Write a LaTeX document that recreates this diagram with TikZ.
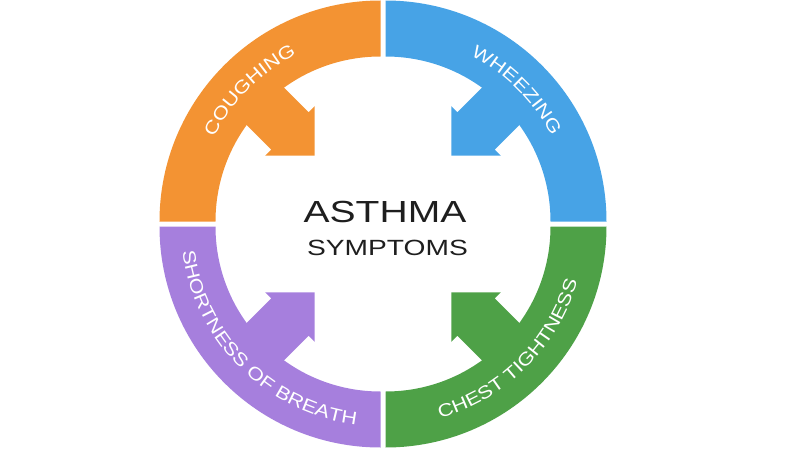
\documentclass[tikz,border=0pt]{standalone}
\usepackage{fontspec}
\setmainfont{Liberation Sans}
\newfontfamily\titlefont[FakeStretch=1.28]{Liberation Sans}
\newfontfamily\ringfont[FakeStretch=1.2]{Liberation Sans}
\usetikzlibrary{decorations.text}
\definecolor{cough}{HTML}{F39333}
\definecolor{wheeze}{HTML}{47A3E6}
\definecolor{breath}{HTML}{A67FDD}
\definecolor{chest}{HTML}{4EA147}
\definecolor{ink}{HTML}{1E1E1E}
\newcommand\ringtext{\ringfont\fontsize{18}{20}\selectfont}

\tikzset{
  ringlabel/.style={decorate,decoration={text along path,text align=center,text color=white,text={#1}}}
}

\begin{document}
\begin{tikzpicture}[x=1pt,y=1pt]

  \useasboundingbox (-383,-226) rectangle (411,224);

  % Coughing (top left quarter)
  \begin{scope}[shift={(-2.5,2.5)}]
    \fill[cough] (180:221) arc[start angle=180,end angle=90,radius=221] -- (90:165) arc[start angle=90,end angle=180,radius=165] -- cycle;
    \fill[cough,rotate=135] (175,-26.5) -- (128,-26.5) -- (128,-35) -- (93,0) -- (128,35) -- (128,26.5) -- (175,26.5) -- cycle;
    \path[ringlabel={|\ringtext|COUGHING}] (179:186.5) arc[start angle=179,end angle=91,radius=186.5];
  \end{scope}

  % Wheezing (top right quarter)
  \begin{scope}[shift={(2.5,2.5)}]
    \fill[wheeze] (90:221) arc[start angle=90,end angle=0,radius=221] -- (0:165) arc[start angle=0,end angle=90,radius=165] -- cycle;
    \fill[wheeze,rotate=45] (175,-26.5) -- (128,-26.5) -- (128,-35) -- (93,0) -- (128,35) -- (128,26.5) -- (175,26.5) -- cycle;
    \path[ringlabel={|\ringtext|WHEEZING}] (89:186.5) arc[start angle=89,end angle=1,radius=186.5];
  \end{scope}

  % Shortness of breath (bottom left quarter)
  \begin{scope}[shift={(-2.5,-2.5)}]
    \fill[breath] (180:221) arc[start angle=180,end angle=270,radius=221] -- (270:165) arc[start angle=270,end angle=180,radius=165] -- cycle;
    \fill[breath,rotate=225] (175,-26.5) -- (128,-26.5) -- (128,-35) -- (93,0) -- (128,35) -- (128,26.5) -- (175,26.5) -- cycle;
    \path[ringlabel={|\ringtext|SHORTNESS OF BREATH}] (181:199.5) arc[start angle=181,end angle=269,radius=199.5];
  \end{scope}

  % Chest tightness (bottom right quarter)
  \begin{scope}[shift={(2.5,-2.5)}]
    \fill[chest] (270:221) arc[start angle=270,end angle=360,radius=221] -- (0:165) arc[start angle=360,end angle=270,radius=165] -- cycle;
    \fill[chest,rotate=315] (175,-26.5) -- (128,-26.5) -- (128,-35) -- (93,0) -- (128,35) -- (128,26.5) -- (175,26.5) -- cycle;
    \path[ringlabel={|\ringtext|CHEST TIGHTNESS}] (271:199.5) arc[start angle=271,end angle=359,radius=199.5];
  \end{scope}

  % Title in the middle
  \node (title) [ink,font=\titlefont\fontsize{30.5}{32}\selectfont,anchor=base,inner sep=0pt] at (2,1.3) {ASTHMA};
  \node (subtitle) [ink,font=\titlefont\fontsize{22}{24}\selectfont,anchor=base,inner sep=0pt] at (4.5,-31) {SYMPTOMS};

\end{tikzpicture}
\end{document}
